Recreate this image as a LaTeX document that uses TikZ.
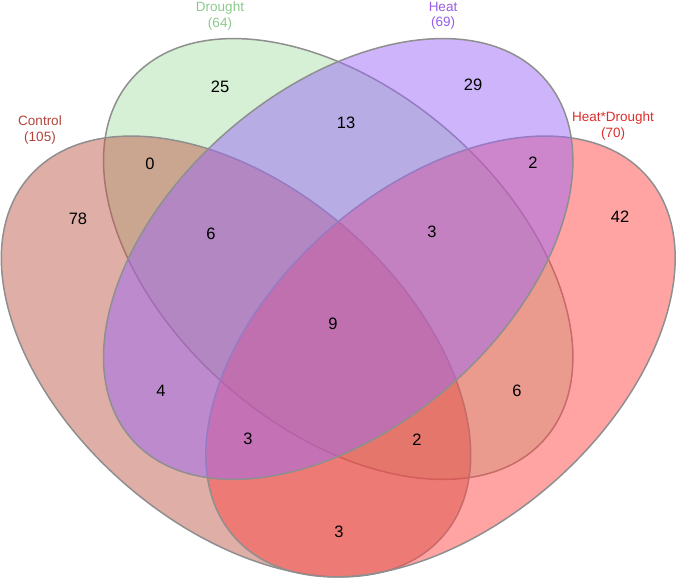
\documentclass[tikz,border=0pt]{standalone}
\usepackage{fontspec}
\setmainfont{Liberation Sans}
\definecolor{vline}{RGB}{143,143,143}
\definecolor{ctrlfill}{RGB}{191,93,77}
\definecolor{droughtfill}{RGB}{171,225,171}
\definecolor{heatfill}{RGB}{157,105,245}
\definecolor{hdfill}{RGB}{255,71,71}
\definecolor{ctrltext}{RGB}{178,68,58}
\definecolor{droughttext}{RGB}{140,202,140}
\definecolor{heattext}{RGB}{152,92,230}
\definecolor{hdtext}{RGB}{222,44,44}
\tikzset{
  venn/.style={draw=vline, line width=1.5pt, fill opacity=0.5},
  vcount/.style={font=\fontsize{16.5}{19}\selectfont, inner sep=0pt},
  vlabel/.style={font=\fontsize{13.5}{15.5}\selectfont, align=center, inner sep=0pt}
}
\begin{document}
\begin{tikzpicture}[x=1pt,y=1pt]
\useasboundingbox (0,0) rectangle (676,579);
% centres of the four sets
\coordinate (cc) at (236,222.5);
\coordinate (cm) at (338.2,320);
\coordinate (ch) at (440.5,222.5);
\draw[venn, fill=droughtfill, rotate around={-41:(cm)}] (cm) ellipse [x radius=274, y radius=169];
\draw[venn, fill=ctrlfill, rotate around={-41:(cc)}] (cc) ellipse [x radius=274, y radius=169];
\draw[venn, fill=hdfill, rotate around={41:(ch)}] (ch) ellipse [x radius=274, y radius=169];
\draw[venn, fill=heatfill, rotate around={41:(cm)}] (cm) ellipse [x radius=274, y radius=169];
% set names
\node (lc) at (40,449) [vlabel, text=ctrltext] {Control\\(105)};
\node (ld) at (220,563) [vlabel, text=droughttext] {Drought\\(64)};
\node (lh) at (443,563) [vlabel, text=heattext] {Heat\\(69)};
\node (lx) at (613,453) [vlabel, text=hdtext] {Heat*Drought\\(70)};
% counts
\node (d) at (220,492) [vcount] {25};
\node (dh) at (346,456) [vcount] {13};
\node (h) at (473,494) [vcount] {29};
\node (cd) at (150,415) [vcount] {0};
\node (hx) at (533,416) [vcount] {2};
\node (c) at (78,360) [vcount] {78};
\node (cdh) at (211,345) [vcount] {6};
\node (dhx) at (432,347) [vcount] {3};
\node (x) at (620,362) [vcount] {42};
\node (cdhx) at (333,255) [vcount] {9};
\node (ch4) at (161,188) [vcount] {4};
\node (dx) at (517,188) [vcount] {6};
\node (chx) at (248,140) [vcount] {3};
\node (cdx) at (417,139) [vcount] {2};
\node (cx) at (339,47) [vcount] {3};
\end{tikzpicture}
\end{document}
